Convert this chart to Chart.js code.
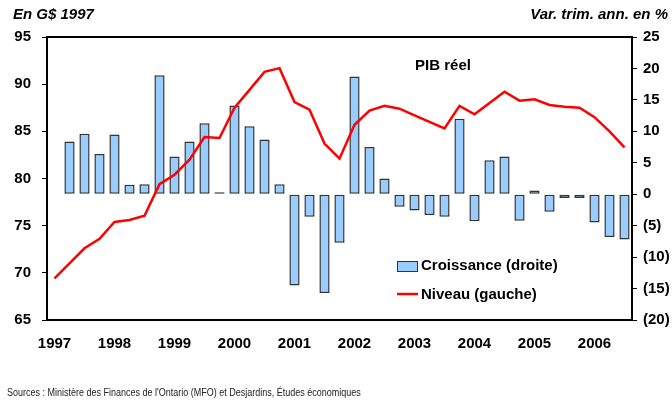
<!DOCTYPE html>
<html>
<head>
<meta charset="utf-8">
<script src="https://cdn.jsdelivr.net/npm/chart.js@4"></script>
<style>
  html, body { margin: 0; padding: 0; background: #fff; }
  #wrap { width: 672px; height: 406px; position: relative; }
</style>
</head>
<body>
<div id="wrap"><canvas id="pibChart"></canvas></div>
<script>
// trimestres 1997T1 .. 2006T3
const years = ['1997', '1998', '1999', '2000', '2001', '2002', '2003', '2004', '2005', '2006'];
const quarters = [];
years.forEach(y => { for (let q = 1; q <= 4; q++) quarters.push(y + 'T' + q); });
quarters.pop(); // s'arrête au 3e trimestre 2006

// Croissance, var. trim. annualisée en % (axe de droite)
const croissance = [null, 8.4, 9.6, 6.4, 9.5, 1.5, 1.6, 18.9, 6.0, 8.4,
  11.3, 0.3, 14.1, 10.8, 8.7, 1.6, -14.5, -3.6, -15.7, -7.7,
  18.7, 7.5, 2.5, -2.0, -2.6, -3.3, -3.6, 12.0, -4.3, 5.4,
  6.0, -4.2, 0.6, -2.8, -0.6, -0.6, -4.5, -6.8, -7.2];

// Niveau, en G$ de 1997 (axe de gauche)
const niveau = [69.4, 71.0, 72.6, 73.6, 75.4, 75.6, 76.05, 79.4, 80.4, 82.0,
  84.4, 84.3, 87.5, 89.4, 91.3, 91.7, 88.1, 87.3, 83.7, 82.1,
  85.7, 87.2, 87.7, 87.4, 86.7, 86.0, 85.3, 87.7, 86.8, 88.0,
  89.2, 88.25, 88.4, 87.8, 87.6, 87.5, 86.5, 85.0, 83.3];

const FONT = "'Liberation Sans', Arial, sans-serif";
const BAR_FILL = '#99ccff';
const LINE_RED = '#ff0000';

// textes et cadre dessinés autour du graphique
const decorations = {
    id: 'decorations',
    afterDraw(chart) {
        const ctx = chart.ctx;
        const area = chart.chartArea;
        ctx.save();

        // trait du haut du cadre
        ctx.strokeStyle = '#000';
        ctx.lineWidth = 2;
        ctx.beginPath();
        ctx.moveTo(area.left, area.top);
        ctx.lineTo(area.right, area.top);
        ctx.stroke();

        ctx.fillStyle = '#000';
        ctx.textBaseline = 'middle';

        ctx.font = 'italic bold 15px ' + FONT;
        ctx.textAlign = 'left';
        ctx.fillText('En G$ 1997', 13, 15);
        ctx.textAlign = 'right';
        ctx.fillText('Var. trim. ann. en %', 668, 15);

        ctx.font = 'bold 15px ' + FONT;
        ctx.textAlign = 'center';
        ctx.fillText('PIB réel', 443, 66);

        // légende
        ctx.textAlign = 'left';
        ctx.fillStyle = BAR_FILL;
        ctx.fillRect(397, 261, 20, 10);
        ctx.strokeStyle = '#333';
        ctx.lineWidth = 1;
        ctx.strokeRect(397.5, 261.5, 20, 10);
        ctx.fillStyle = '#000';
        ctx.fillText('Croissance (droite)', 421, 266);

        ctx.strokeStyle = LINE_RED;
        ctx.lineWidth = 2.5;
        ctx.beginPath();
        ctx.moveTo(397, 294);
        ctx.lineTo(418, 294);
        ctx.stroke();
        ctx.fillText('Niveau (gauche)', 421, 295);

        // source, police un peu condensée
        ctx.font = '10px ' + FONT;
        ctx.fillStyle = '#222';
        ctx.translate(7, 393);
        ctx.scale(0.9, 1);
        ctx.fillText("Sources : Ministère des Finances de l'Ontario (MFO) et Desjardins, Études économiques", 0, 0);
        ctx.restore();
    }
};

const ctx = document.getElementById('pibChart').getContext('2d');
new Chart(ctx, {
    data: {
        labels: quarters,
        datasets: [{
            type: 'line',
            label: 'Niveau (gauche)',
            data: niveau,
            yAxisID: 'yLeft',
            borderColor: LINE_RED,
            borderWidth: 2.5,
            pointRadius: 0,
            tension: 0,
            order: 0
        }, {
            type: 'bar',
            label: 'Croissance (droite)',
            data: croissance,
            yAxisID: 'yRight',
            backgroundColor: BAR_FILL,
            borderColor: '#333',
            borderWidth: 1.5,
            borderSkipped: false,
            barPercentage: 0.68,
            categoryPercentage: 1.0,
            order: 1
        }]
    },
    options: {
        responsive: true,
        maintainAspectRatio: false,
        animation: false,
        layout: { padding: { top: 37, bottom: 46, left: 0, right: 0 } },
        plugins: {
            legend: { display: false },
            title: { display: false },
            tooltip: { enabled: false }
        },
        scales: {
            x: {
                offset: true,
                grid: { display: false, drawTicks: false },
                border: { display: true, color: '#000', width: 2 },
                ticks: {
                    autoSkip: false,
                    maxRotation: 0,
                    padding: 15,
                    color: '#000',
                    font: { family: FONT, size: 15, weight: 'bold' },
                    callback: function(value, index) {
                        return index % 4 === 0 ? quarters[index].slice(0, 4) : '';
                    }
                },
                afterFit: scale => { scale.height = 40; }
            },
            yLeft: {
                position: 'left',
                min: 65,
                max: 95,
                grid: { display: true, drawOnChartArea: false, drawTicks: true, tickLength: 5, color: '#000' },
                border: { display: true, color: '#000', width: 2 },
                ticks: {
                    stepSize: 5,
                    padding: 11,
                    color: '#000',
                    font: { family: FONT, size: 15, weight: 'bold' }
                },
                afterFit: scale => { scale.width = 47; }
            },
            yRight: {
                position: 'right',
                min: -20,
                max: 25,
                grid: { display: true, drawOnChartArea: false, drawTicks: true, tickLength: 5, color: '#000' },
                border: { display: true, color: '#000', width: 2 },
                ticks: {
                    stepSize: 5,
                    padding: 6,
                    color: '#000',
                    font: { family: FONT, size: 15, weight: 'bold' },
                    callback: function(value) {
                        return value < 0 ? '(' + Math.abs(value) + ')' : value;
                    }
                },
                afterFit: scale => { scale.width = 40; }
            }
        }
    },
    plugins: [decorations]
});
</script>
</body>
</html>
